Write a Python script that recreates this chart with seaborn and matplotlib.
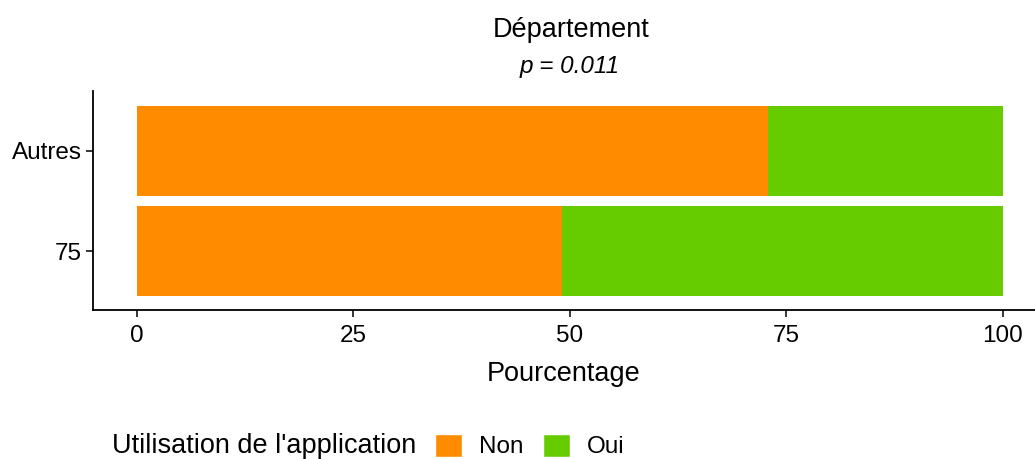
import matplotlib
matplotlib.use("Agg")
import matplotlib.pyplot as plt
import seaborn as sns
import pandas as pd
from matplotlib.patches import Patch
from matplotlib.offsetbox import HPacker

categories = ["Autres", "75"]
non_pct = [72.9, 49.1]
oui_pct = [27.1, 50.9]
xticks = [0, 25, 50, 75, 100]
col_non = "#FF8C00"
col_oui = "#66CC00"

sns.set_theme(style="ticks")
plt.rcParams['font.family'] = ['Liberation Sans', 'DejaVu Sans']
plt.rcParams['text.color'] = 'black'
plt.rcParams['axes.labelcolor'] = 'black'

df = pd.DataFrame({"cat": categories, "Non": non_pct, "Oui": oui_pct})
df["total"] = df["Non"] + df["Oui"]

fig = plt.figure(figsize=(10.35, 4.59), dpi=100)
ax = fig.add_axes([93/1035, 1 - 310/459, (1035 - 93)/1035, (310 - 91)/459])

sns.barplot(data=df, y="cat", x="total", order=categories, color=col_oui,
            orient="h", width=0.9, ax=ax, saturation=1, linewidth=0)
sns.barplot(data=df, y="cat", x="Non", order=categories, color=col_non,
            orient="h", width=0.9, ax=ax, saturation=1, linewidth=0)

ax.set_xlim(-5.08, 103.7)
ax.set_ylim(1.59, -0.6)
ax.set_xticks(xticks)
ax.set_xticklabels([str(t) for t in xticks])
ax.tick_params(axis="both", labelsize=17.5, colors="black", length=5, width=1.1, pad=3)
ax.tick_params(axis="x", pad=6)
for s in ["top", "right"]:
    ax.spines[s].set_visible(False)
for s in ["left", "bottom"]:
    ax.spines[s].set_color("black")
    ax.spines[s].set_linewidth(1.3)
ax.set_ylabel("")
ax.set_xlabel("Pourcentage", fontsize=19.5, labelpad=10)

fig.text(571/1035, 1 - 30/459, "Département", ha="center", va="center", fontsize=19.5)
fig.text(570/1035, 1 - 67/459, "p = 0.011", ha="center", va="center", fontsize=17.5, style="italic")

handles = [Patch(facecolor=col_non, label="Non"), Patch(facecolor=col_oui, label="Oui")]
leg = fig.legend(handles=handles, loc="center", bbox_to_anchor=(368/1035, 1 - 446/459),
                 ncol=2, frameon=False, fontsize=17.5, title="Utilisation de l'application",
                 title_fontsize=19.5, handlelength=1.1, handleheight=1.1, columnspacing=0.8,
                 handletextpad=0.7)
title_box = leg._legend_title_box
handle_box = leg._legend_handle_box
leg._legend_box._children = [HPacker(pad=0, sep=14, children=[title_box, handle_box], align="center")]

fig.savefig("out.png", dpi=100)
